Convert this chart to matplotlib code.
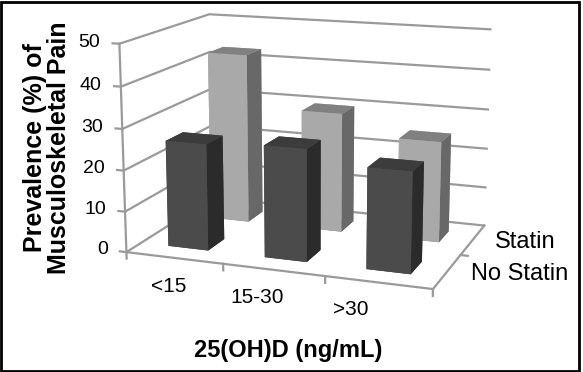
import matplotlib.pyplot as plt
import numpy as np
from matplotlib.patches import Rectangle
from mpl_toolkits.mplot3d import proj3d

# data
categories = ['<15', '15-30', '>30']
series = ['No Statin', 'Statin']
no_statin = [26, 27, 24]
statin = [43, 30, 25]
z_ticks = [0, 10, 20, 30, 40, 50]

plt.rcParams['font.family'] = ['Liberation Sans', 'DejaVu Sans']

fig = plt.figure(figsize=(5.83, 3.72), dpi=100)
# view fitted to the corners of the reference box (3d axes stay square)
ax = fig.add_axes([0.1671, 0.0518, 0.7133, 1.1179], projection='3d')
ax.set_axis_off()
ax.computed_zorder = False
ax.set_proj_type('persp', focal_length=0.6)
ax.view_init(elev=13.5, azim=-70)
ax.set_box_aspect((3, 2.0, 2.0), zoom=1)

x0, x1 = -0.5, len(categories) - 0.5
y0, y1 = -0.5, len(series) - 0.5
ax.set_xlim(x0, x1)
ax.set_ylim(y0, y1)
ax.set_zlim(0, 50)

M = ax.get_proj()


def label(x, y, z, s, **kw):
    # flat label at the projected position of a 3d point
    px, py, _ = proj3d.proj_transform(x, y, z, M)
    ax.text2D(px, py, s, transform=ax.transData, zorder=5, **kw)


grid_c = '#9a9a9a'
lw = 1.6

# left wall + back wall gridlines
for z in z_ticks:
    ax.plot([x0, x0, x1], [y0, y1, y1], [z, z, z], color=grid_c, lw=lw, zorder=1)
    ax.plot([x0 - 0.07, x0], [y0, y0], [z, z], color=grid_c, lw=lw, zorder=1)
    label(x0 - 0.2, y0, z, str(z), ha='right', va='center', fontsize=14)

# vertical axis and floor edges
ax.plot([x0, x0], [y0, y0], [0, 50], color=grid_c, lw=lw, zorder=1)
ax.plot([x0, x1, x1], [y0, y0, y1], [0, 0, 0], color=grid_c, lw=lw, zorder=1)

# tick marks on floor
for xb in np.arange(x0, x1 + 0.01, 1.0):
    ax.plot([xb, xb], [y0, y0], [0, -1.6], color=grid_c, lw=lw, zorder=1)
ax.plot([x1, x1 + 0.07], [0.5, 0.5], [0, 0], color=grid_c, lw=lw, zorder=1)

# bars
bar_w, bar_d = 0.42, 0.38
# face order: bottom, top, front, back, left, right
front_cols = ['#3a3a3a', '#3c3c3c', '#4b4b4b', '#4b4b4b', '#4b4b4b', '#2b2b2b']
back_cols = ['#7a7a7a', '#808080', '#a9a9a9', '#a9a9a9', '#a9a9a9', '#686868']
xs, ys, hs, cols = [], [], [], []
for j, vals in enumerate([no_statin, statin]):
    for i, v in enumerate(vals):
        xs.append(i - bar_w / 2)
        ys.append(j - bar_d / 2)
        hs.append(v)
        cols += front_cols if j == 0 else back_cols
ax.bar3d(xs, ys, np.zeros(len(xs)), bar_w, bar_d, hs, color=cols,
         shade=False, linewidth=0, zorder=3)

# category labels
for i, c in enumerate(categories):
    label(i - 0.06 - 0.1 * i, y0, -7.2, c, ha='center', va='center', fontsize=15)
# series labels
for j, s in enumerate(series):
    label(x1 + 0.22, j, 0, s, ha='left', va='center', fontsize=17)

fig.text(288 / 583, 1 - 350 / 372, '25(OH)D (ng/mL)', ha='center', va='center',
         fontsize=17, fontweight='bold')
fig.text(47 / 583, 1 - 148 / 372, 'Prevalence (%) of\nMusculoskeletal Pain',
         ha='center', va='center', rotation=90, fontsize=18, fontweight='bold',
         linespacing=1.05, multialignment='center')

# frame
fig.patches.append(Rectangle((0.002, 0.004), 0.991, 0.99, transform=fig.transFigure,
                             fill=False, edgecolor='black', lw=2))

fig.savefig('out.png', dpi=100)
